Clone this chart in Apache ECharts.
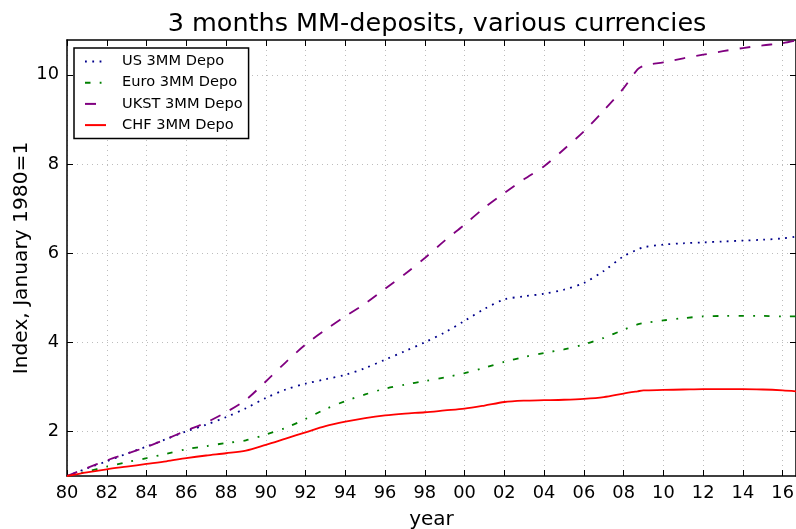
<!DOCTYPE html>
<html>
<head>
<meta charset="utf-8">
<script src="https://cdn.jsdelivr.net/npm/echarts@6/dist/echarts.min.js"></script>
<style>
  html, body { margin: 0; padding: 0; background: #fff; }
  #chart { width: 796px; height: 529px; }
</style>
</head>
<body>
<div id="chart"></div>
<script>
// x positions (fractional years), shared by all four series
const years = [1980, 1981, 1982, 1983, 1984, 1985, 1986, 1987, 1988, 1989,
  1990, 1991, 1992, 1993, 1994, 1995, 1996, 1997, 1998, 1999,
  2000, 2001, 2002, 2003, 2004, 2005, 2006, 2007, 2008, 2008.7, 2009,
  2010, 2011, 2012, 2013, 2014, 2015, 2016, 2016.67];

const usDepo = [1.00, 1.17, 1.33, 1.50, 1.66, 1.83, 2.00, 2.15, 2.32, 2.52,
  2.75, 2.94, 3.07, 3.17, 3.27, 3.42, 3.61, 3.80, 4.00, 4.22,
  4.48, 4.75, 4.96, 5.03, 5.09, 5.18, 5.33, 5.60, 5.93, 6.08, 6.13,
  6.19, 6.22, 6.24, 6.26, 6.28, 6.30, 6.33, 6.37];

const euroDepo = [1.00, 1.10, 1.21, 1.31, 1.40, 1.50, 1.60, 1.67, 1.74, 1.80,
  1.93, 2.08, 2.28, 2.50, 2.68, 2.83, 2.96, 3.05, 3.13, 3.21,
  3.31, 3.43, 3.56, 3.67, 3.76, 3.84, 3.95, 4.10, 4.28, 4.40, 4.43,
  4.49, 4.54, 4.58, 4.59, 4.59, 4.59, 4.58, 4.58];

const ukDepo = [1.00, 1.18, 1.35, 1.50, 1.65, 1.83, 2.02, 2.20, 2.43, 2.71,
  3.12, 3.55, 3.95, 4.28, 4.58, 4.87, 5.20, 5.53, 5.89, 6.28,
  6.64, 7.02, 7.35, 7.66, 7.95, 8.33, 8.73, 9.20, 9.70, 10.12, 10.20,
  10.28, 10.37, 10.45, 10.53, 10.60, 10.66, 10.71, 10.77];

const chfDepo = [1.00, 1.08, 1.15, 1.21, 1.27, 1.33, 1.40, 1.46, 1.51, 1.57,
  1.70, 1.84, 1.98, 2.12, 2.22, 2.30, 2.36, 2.40, 2.43, 2.47,
  2.51, 2.58, 2.66, 2.69, 2.70, 2.71, 2.73, 2.77, 2.85, 2.90, 2.92,
  2.93, 2.94, 2.95, 2.95, 2.95, 2.94, 2.92, 2.90];

const yTicks = [2, 4, 6, 8, 10];

const font = 'DejaVu Sans';
const pairs = (vals) => years.map((y, i) => [y, vals[i]]);

function lineSeries(name, vals, color, dash) {
  return {
    name: name,
    type: 'line',
    data: pairs(vals),
    symbol: 'none',
    smooth: 0.3,
    lineStyle: { color: color, width: 1.8, type: dash, cap: 'butt' },
    itemStyle: { color: color },
    z: 3
  };
}

const chart = echarts.init(document.getElementById('chart'), null, { renderer: 'canvas' });

chart.setOption({
  animation: false,
  backgroundColor: '#fff',
  textStyle: { fontFamily: font },
  title: {
    text: '3 months MM-deposits, various currencies',
    left: 432,
    top: 6,
    textAlign: 'center',
    textStyle: { fontFamily: font, fontSize: 25.5, fontWeight: 'normal', color: '#000' }
  },
  grid: { left: 67, right: 0, top: 40, bottom: 53, outerBoundsMode: 'none' },
  legend: {
    orient: 'vertical',
    left: 74,
    top: 48,
    padding: [6, 6, 6, 10],
    itemGap: 6.2,
    itemWidth: 21,
    itemHeight: 14,
    backgroundColor: '#fff',
    borderColor: '#000',
    borderWidth: 1.5,
    borderRadius: 0,
    itemStyle: { opacity: 0 },
    textStyle: { fontFamily: font, fontSize: 14.6, color: '#000', padding: [0, 0, 0, 11] },
    data: ['US 3MM Depo', 'Euro 3MM Depo', 'UKST 3MM Depo', 'CHF 3MM Depo']
  },
  xAxis: [{
    type: 'value',
    min: 1980,
    max: 2016.67,
    interval: 2,
    name: 'year',
    nameLocation: 'middle',
    nameGap: 34,
    nameTextStyle: { fontFamily: font, fontSize: 20, color: '#000' },
    axisLine: { lineStyle: { color: '#000', width: 1.5 } },
    axisTick: { inside: true, length: 6, lineStyle: { color: '#000', width: 1 } },
    axisLabel: {
      fontFamily: font, fontSize: 17.8, color: '#000', margin: 8,
      formatter: (v) => (Number.isInteger(v) && v % 2 === 0) ? String(v % 100).padStart(2, '0') : ''
    },
    splitLine: { show: true, lineStyle: { color: '#bdbdbd', width: 1, type: [1, 4] } }
  }, {
    type: 'value',
    position: 'top',
    min: 1980,
    max: 2016.67,
    interval: 2,
    axisLine: { lineStyle: { color: '#000', width: 1.5 } },
    axisTick: { inside: true, length: 6, lineStyle: { color: '#000', width: 1 } },
    axisLabel: { show: false },
    splitLine: { show: false }
  }],
  yAxis: [{
    type: 'value',
    min: 1,
    max: 10.78,
    name: 'Index, January 1980=1',
    nameLocation: 'middle',
    nameGap: 35,
    nameMoveOverlap: false,
    nameTextStyle: { fontFamily: font, fontSize: 20.2, color: '#000' },
    axisLine: { show: true, lineStyle: { color: '#000', width: 1.5 } },
    axisTick: { show: true, inside: true, length: 6, customValues: yTicks, lineStyle: { color: '#000', width: 1 } },
    axisLabel: { fontFamily: font, fontSize: 17.8, color: '#000', margin: 8, customValues: yTicks },
    splitLine: { show: true, lineStyle: { color: '#bdbdbd', width: 1, type: [1, 4] } }
  }, {
    type: 'value',
    position: 'right',
    min: 1,
    max: 10.78,
    axisLine: { show: true, lineStyle: { color: '#000', width: 1.5 } },
    axisTick: { show: true, inside: true, length: 6, customValues: yTicks, lineStyle: { color: '#000', width: 1 } },
    axisLabel: { show: false },
    splitLine: { show: false }
  }],
  series: [
    lineSeries('US 3MM Depo', usDepo, '#00008b', [1.8, 5.5]),
    lineSeries('Euro 3MM Depo', euroDepo, '#008000', [5.5, 9.2, 1.8, 9.2]),
    lineSeries('UKST 3MM Depo', ukDepo, '#800080', [11, 11]),
    lineSeries('CHF 3MM Depo', chfDepo, '#ff0000', 'solid')
  ]
});
</script>
</body>
</html>
